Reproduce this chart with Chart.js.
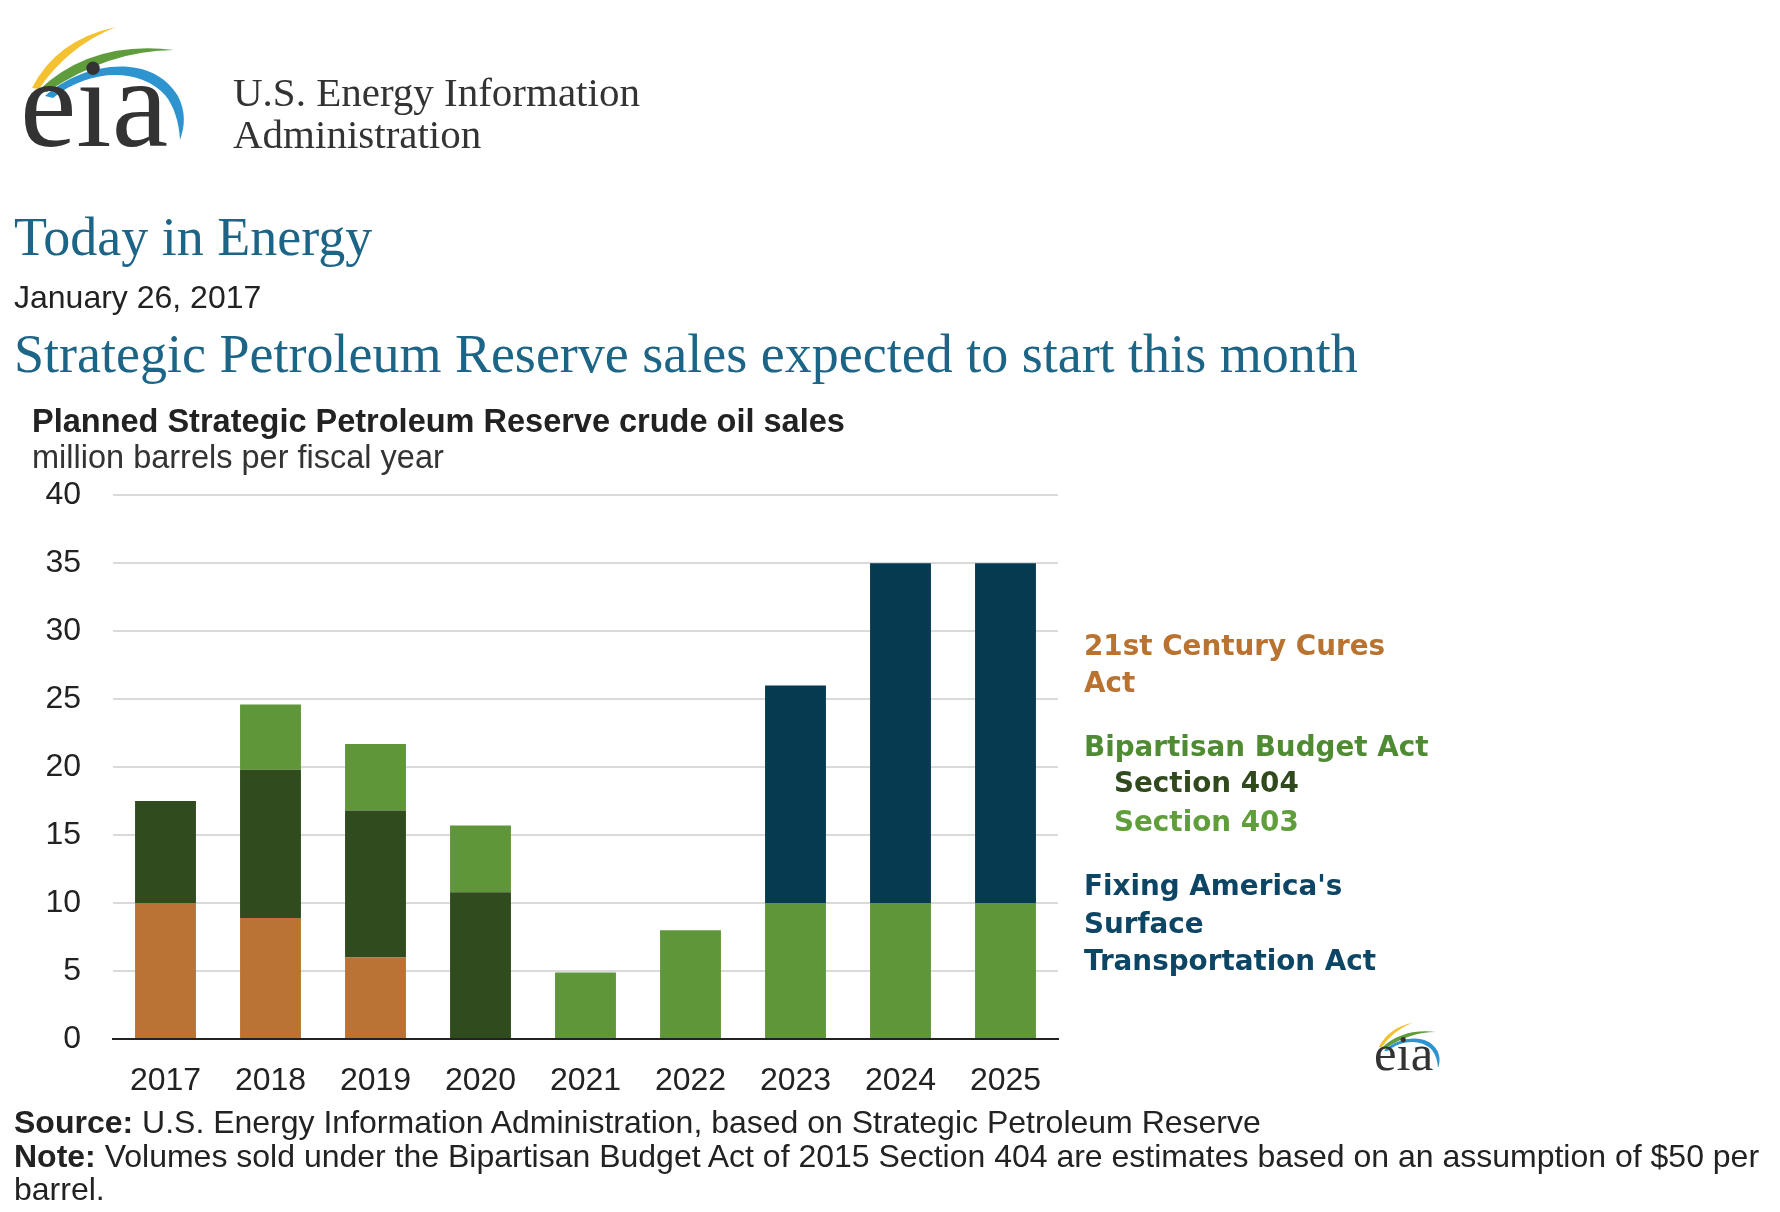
<!DOCTYPE html>
<html>
<head>
<meta charset="utf-8">
<script src="https://cdn.jsdelivr.net/npm/chart.js@4"></script>
<style>
  html, body { margin: 0; padding: 0; background: #fff; }
  #page { position: relative; width: 1780px; height: 1212px; overflow: hidden; }
  #chartBox { position: absolute; left: 0; top: 444px; width: 1080px; height: 666px; }
  #overlay { position: absolute; left: 0; top: 0; }
</style>
</head>
<body>
<div id="page">
  <div id="chartBox"><canvas id="sprChart"></canvas></div>
  <svg id="overlay" width="1780" height="1212" xmlns="http://www.w3.org/2000/svg">
    <g id="eiaLogo">
      <path d="M32,88 Q56,40 116,27 Q68,46 39,89 Z" fill="#f4c130"/>
      <path d="M39,90 Q92,40 174,50 Q110,50 47,92 Z" fill="#5e9c3c"/>
      <path d="M45,96 C80,64 150,50 178,96 C186,112 185,126 180,140 C179,122 174,106 165,95 C140,68 90,68 53,98 Z" fill="#2e94d0"/>
      <text x="20" y="146" font-family="Liberation Serif" font-size="128" textLength="148" lengthAdjust="spacingAndGlyphs" fill="#333">eia</text>
    </g>
    <g font-family="Liberation Serif" fill="#333" font-size="41">
      <text x="233" y="106">U.S. Energy Information</text>
      <text x="233" y="148">Administration</text>
    </g>
    <g font-family="Liberation Serif" fill="#1c6587">
      <text x="14" y="255" font-size="54">Today in Energy</text>
      <text x="14" y="372" font-size="54">Strategic Petroleum Reserve sales expected to start this month</text>
    </g>
    <text x="14" y="308" font-family="Liberation Sans" font-size="32" fill="#222">January 26, 2017</text>

    <text x="32" y="432" font-family="Liberation Sans" font-weight="bold" font-size="32.5" fill="#222">Planned Strategic Petroleum Reserve crude oil sales</text>
    <text x="32" y="468" font-family="Liberation Sans" font-size="32.5" fill="#333">million barrels per fiscal year</text>

    <g font-family="DejaVu Sans" font-weight="bold" font-size="27.8">
      <text x="1084" y="655" fill="#b9722f">21st Century Cures</text>
      <text x="1084" y="692" fill="#b9722f">Act</text>
      <text x="1084" y="756" fill="#4f8b33">Bipartisan Budget Act</text>
      <text x="1114" y="792" fill="#304a1e">Section 404</text>
      <text x="1114" y="831" fill="#5f9e3a">Section 403</text>
      <text x="1084" y="895" fill="#0d4565">Fixing America's</text>
      <text x="1084" y="933" fill="#0d4565">Surface</text>
      <text x="1084" y="970" fill="#0d4565">Transportation Act</text>
    </g>

    <use href="#eiaLogo" transform="translate(1366,1012) scale(0.4)"/>

    <g font-family="Liberation Sans" font-size="32" fill="#222">
      <text x="14" y="1133"><tspan font-weight="bold">Source:</tspan> U.S. Energy Information Administration, based on Strategic Petroleum Reserve</text>
      <text x="14" y="1167"><tspan font-weight="bold">Note:</tspan> Volumes sold under the Bipartisan Budget Act of 2015 Section 404 are estimates based on an assumption of $50 per</text>
      <text x="14" y="1200">barrel.</text>
    </g>
  </svg>
</div>
<script>
// fiscal years on the x axis
const years = ["2017", "2018", "2019", "2020", "2021", "2022", "2023", "2024", "2025"];

// million barrels per fiscal year, stacked bottom to top
const curesAct = [10, 8.9, 6, 0, 0, 0, 0, 0, 0];
const budgetActSec404 = [7.5, 10.9, 10.8, 10.8, 0, 0, 0, 0, 0];
const budgetActSec403 = [0, 4.8, 4.9, 4.9, 4.9, 8, 10, 10, 10];
const fastAct = [0, 0, 0, 0, 0, 0, 16, 25, 25];

const yMin = 0;
const yMax = 40;
const yStep = 5;

const tickFont = {family: "Liberation Sans", size: 32};

const ctx = document.getElementById("sprChart").getContext("2d");

new Chart(ctx, {
    type: "bar",
    data: {
        labels: years,
        datasets: [
            {label: "21st Century Cures Act", data: curesAct, backgroundColor: "#ba7335"},
            {label: "Bipartisan Budget Act Section 404", data: budgetActSec404, backgroundColor: "#304b1e"},
            {label: "Bipartisan Budget Act Section 403", data: budgetActSec403, backgroundColor: "#5f963a"},
            {label: "Fixing America's Surface Transportation Act", data: fastAct, backgroundColor: "#053a51"}
        ]
    },
    options: {
        responsive: true,
        maintainAspectRatio: false,
        animation: false,
        categoryPercentage: 1.0,
        barPercentage: 0.58,
        layout: {padding: {top: 24, right: 22, left: 0, bottom: 0}},
        plugins: {
            legend: {display: false},
            tooltip: {enabled: false},
            title: {display: false}
        },
        scales: {
            x: {
                stacked: true,
                grid: {display: false, drawTicks: false},
                border: {display: true, color: "#222", width: 2},
                ticks: {color: "#222", font: tickFont, padding: 23, maxRotation: 0},
                afterFit(scale) { scale.height = 71; }
            },
            y: {
                stacked: true,
                min: yMin,
                max: yMax,
                border: {display: false},
                grid: {
                    drawTicks: false,
                    lineWidth: 2,
                    color: (c) => c.tick && c.tick.value === 0 ? "#222" : "#dadada"
                },
                ticks: {stepSize: yStep, color: "#222", font: tickFont, padding: 32},
                afterFit(scale) { scale.width = 113; }
            }
        }
    }
});
</script>
</body>
</html>
